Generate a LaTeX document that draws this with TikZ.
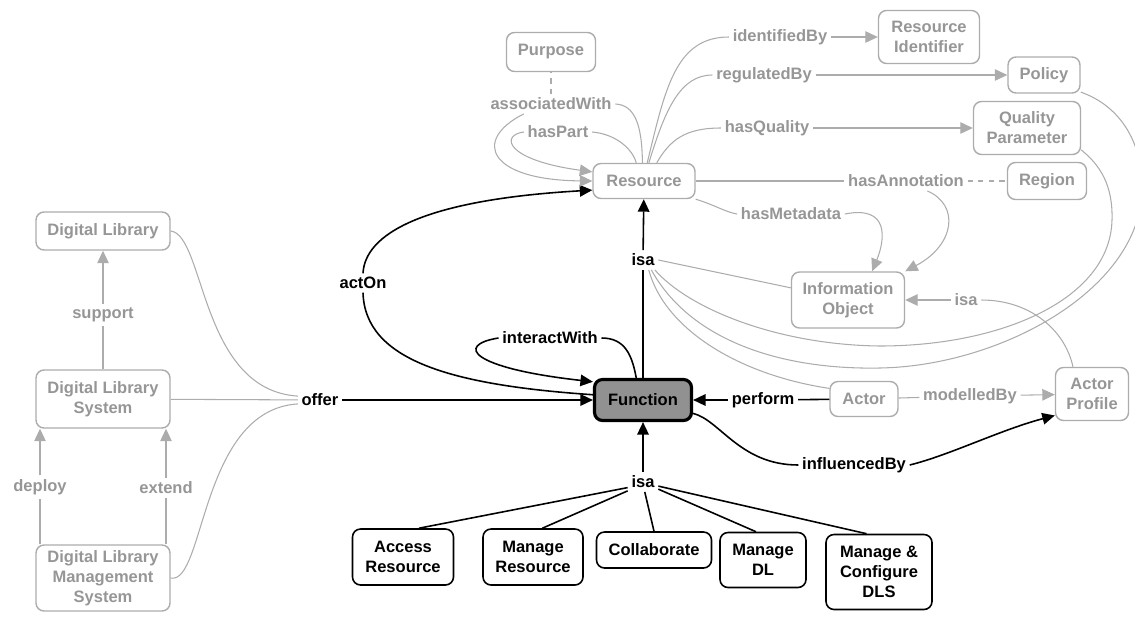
\documentclass[tikz,border=0pt]{standalone}
\usepackage{fontspec}
\setmainfont{Liberation Sans}
\usetikzlibrary{arrows.meta}
\definecolor{faint}{RGB}{150,150,150}
\definecolor{faintline}{RGB}{172,172,172}
\definecolor{fnfill}{RGB}{145,145,145}

\begin{document}
\begin{tikzpicture}[x=0.02cm, y=-0.02cm,
  font=\fontsize{9.4}{11.3}\selectfont\bfseries,
  >={Triangle[length=0.25cm, width=0.23cm]},
  concept/.style={draw, rounded corners=0.16cm, line width=0.9pt, align=center, inner sep=0pt},
  pale/.style={concept, draw=faintline, text=faint, line width=0.8pt},
  phrase/.style={inner sep=2pt},
  palephrase/.style={phrase, text=faint},
  link/.style={line width=0.9pt},
  palelink/.style={draw=faintline, line width=0.6pt}]
\useasboundingbox (0,0) rectangle (1135,622);

\node[pale, minimum width=1.78cm, minimum height=0.78cm] (purpose) at (551,52) {Purpose};
\node[pale, minimum width=2.02cm, minimum height=1.06cm] (resource-id) at (929,37) {Resource\\Identifier};
\node[pale, minimum width=1.44cm, minimum height=0.72cm] (policy) at (1044,75) {Policy};
\node[pale, minimum width=2.14cm, minimum height=1.06cm] (quality) at (1027,128) {Quality\\Parameter};
\node[pale, minimum width=1.58cm, minimum height=0.74cm] (region) at (1047,181) {Region};
\node[pale, minimum width=2.04cm, minimum height=0.7cm] (resource) at (644,181) {Resource};
\node[pale, minimum width=2.26cm, minimum height=1.12cm] (info-object) at (848,300) {Information\\Object};
\node[pale, minimum width=1.36cm, minimum height=0.7cm] (actor) at (864,399) {Actor};
\node[pale, minimum width=1.46cm, minimum height=1.06cm] (actor-profile) at (1092,394) {Actor\\Profile};
\node[pale, minimum width=2.68cm, minimum height=0.76cm] (dl) at (103,231) {Digital Library};
\node[pale, minimum width=2.68cm, minimum height=1.16cm] (dls) at (103,399) {Digital Library\\System};
\node[pale, minimum width=2.68cm, minimum height=1.32cm] (dlms) at (103,578) {Digital Library\\Management\\System};

\node[concept, fill=fnfill, line width=1.8pt, minimum width=1.94cm, minimum height=0.82cm] (function) at (643,400) {Function};
\node[concept, minimum width=2.02cm, minimum height=1.12cm] (access) at (403,557) {Access\\Resource};
\node[concept, minimum width=2cm, minimum height=1.12cm] (manage-res) at (533,557) {Manage\\Resource};
\node[concept, minimum width=2.3cm, minimum height=0.72cm] (collaborate) at (654,550) {Collaborate};
\node[concept, minimum width=1.72cm, minimum height=1.1cm] (manage-dl) at (763,560) {Manage\\DL};
\node[concept, minimum width=2.12cm, minimum height=1.5cm] (config-dls) at (879,572) {Manage \&\\Configure\\DLS};

\node[phrase] (isa-up) at (643,260) {isa};
\node[phrase] (isa-low) at (643,482) {isa};
\node[phrase] (act-on) at (363,283) {actOn};
\node[phrase] (interact-with) at (550,338) {interactWith};
\node[phrase] (offer) at (320,400) {offer};
\node[phrase] (perform) at (763,400) {perform};
\node[phrase] (influenced-by) at (854,465) {influencedBy};

\node[palephrase] (associated-with) at (551,104) {associatedWith};
\node[palephrase] (has-part) at (558,132) {hasPart};
\node[palephrase] (identified-by) at (780,37) {identifiedBy};
\node[palephrase] (regulated-by) at (764,75) {regulatedBy};
\node[palephrase] (has-quality) at (767,128) {hasQuality};
\node[palephrase] (has-annotation) at (906,181) {hasAnnotation};
\node[palephrase] (has-metadata) at (791,214) {hasMetadata};
\node[palephrase] (isa-ap) at (966,300) {isa};
\node[palephrase] (modelled-by) at (970,396) {modelledBy};
\node[palephrase] (support) at (103,315) {support};
\node[palephrase] (deploy) at (40,487) {deploy};
\node[palephrase] (extend) at (166,488) {extend};

\draw[link] (function) -- (isa-up);
\draw[link, ->] (isa-up) -- (resource);
\draw[link, ->] (isa-low) -- (function);
\draw[link] (access.61) -- (isa-low.200);
\draw[link] (manage-res.72) -- (isa-low.210);
\draw[link] (collaborate.north) -- (isa-low.-80);
\draw[link] (manage-dl.104) -- (isa-low.-25);
\draw[link] (config-dls.108) -- (isa-low.-15);
\draw[link] (function.174) .. controls (450,385) and (365,360) .. (act-on.south);
\draw[link, ->] (act-on.north) .. controls (365,235) and (420,200) .. (resource.190);
\draw[link] (function.107) .. controls (632,355) and (625,338) .. (interact-with.east);
\draw[link, ->] (interact-with.west) .. controls (455,345) and (470,368) .. (function.160);
\draw[link, ->] (offer) -- (function);
\draw[link] (actor) -- (perform);
\draw[link, ->] (perform) -- (function);
\draw[link] (function.-15) .. controls (720,420) and (740,465) .. (influenced-by.west);
\draw[link, ->] (influenced-by.east) .. controls (950,455) and (1000,430) .. (actor-profile.210);

\draw[palelink] (resource.95) .. controls (642,125) and (635,105) .. (associated-with.east);
\draw[palelink, ->] (associated-with.200) .. controls (472,140) and (488,180) .. (resource.west);
\draw[palelink, dashed] (associated-with) -- (purpose);
\draw[palelink] (resource.113) .. controls (632,148) and (615,134) .. (has-part.east);
\draw[palelink, ->] (has-part.west) .. controls (500,135) and (505,160) .. (resource.170);
\draw[palelink] (resource.80) .. controls (665,90) and (675,37) .. (identified-by.west);
\draw[palelink, ->] (identified-by) -- (resource-id);
\draw[palelink] (resource.75) .. controls (665,110) and (680,75) .. (regulated-by.west);
\draw[palelink, ->] (regulated-by) -- (policy);
\draw[palelink] (resource.55) .. controls (670,140) and (685,128) .. (has-quality.west);
\draw[palelink, ->] (has-quality) -- (quality);
\draw[palelink] (resource) -- (has-annotation);
\draw[palelink, dashed] (has-annotation) -- (region);
\draw[palelink, ->] (has-annotation.-25) .. controls (960,205) and (955,245) .. (info-object.north east);
\draw[palelink] (resource.south east) .. controls (715,205) and (725,212) .. (has-metadata.west);
\draw[palelink, ->] (has-metadata.east) .. controls (890,205) and (885,240) .. (info-object.50);

\draw[palelink] (isa-up.east) -- (info-object.168);
\draw[palelink] (isa-up.-40) .. controls (690,310) and (780,345) .. (880,346)
  .. controls (1000,346) and (1110,300) .. (1112,220)
  .. controls (1113,185) and (1100,165) .. (quality.-22);
\draw[palelink] (isa-up.-50) .. controls (690,340) and (780,370) .. (880,368)
  .. controls (1000,366) and (1140,290) .. (1142,190)
  .. controls (1143,140) and (1118,105) .. (policy.-25);
\draw[palelink] (isa-up.-60) .. controls (665,330) and (740,375) .. (actor.163);

\draw[palelink] (actor-profile.125) .. controls (1065,330) and (1030,300) .. (isa-ap.east);
\draw[palelink, ->] (isa-ap) -- (info-object);
\draw[palelink] (actor) -- (modelled-by);
\draw[palelink, ->] (modelled-by) -- (actor-profile);

\draw[palelink] (dls) -- (support);
\draw[palelink, ->] (support) -- (dl);
\draw[palelink] (deploy |- dlms.north) -- (deploy);
\draw[palelink, ->] (deploy) -- (deploy |- dls.south);
\draw[palelink] (extend |- dlms.north) -- (extend);
\draw[palelink, ->] (extend) -- (extend |- dls.south);
\draw[palelink] (dl.east) .. controls (205,235) and (200,390) .. (offer.170);
\draw[palelink] (dls) -- (offer);
\draw[palelink] (dlms.east) .. controls (205,585) and (200,410) .. (offer.190);
\end{tikzpicture}
\end{document}
